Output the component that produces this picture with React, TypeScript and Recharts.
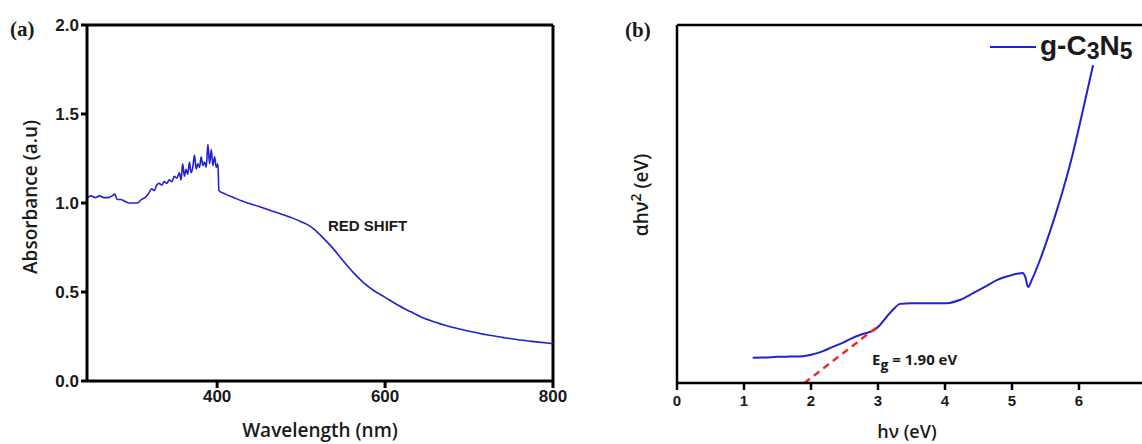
import { Legend, Line, LineChart, ReferenceLine, XAxis, YAxis } from "recharts";

// (a) UV-vis absorbance spectrum
const wavelength = [
  245, 250, 255, 260, 265, 270, 275, 278, 281, 285, 290, 295, 300, 305, 310,
  314, 318, 322, 325, 328, 331, 334, 337, 340, 343, 346, 349, 352, 355, 357,
  359, 361, 363, 365, 367, 369, 371, 373, 375, 377, 379, 381, 383, 385, 387,
  389, 391, 393, 395, 397, 399, 401, 402, 410, 420, 436, 450, 465, 475, 490,
  500, 507, 515, 525, 538, 550, 562, 575, 586, 600, 614, 630, 645, 660, 681,
  700, 721, 740, 761, 780, 800,
];
const absorbance = [
  1.03, 1.04, 1.03, 1.04, 1.03, 1.03, 1.04, 1.05, 1.02, 1.02, 1.01, 1.0, 1.0,
  1.0, 1.02, 1.03, 1.05, 1.08, 1.07, 1.1, 1.11, 1.1, 1.12, 1.11, 1.13, 1.12,
  1.15, 1.14, 1.17, 1.13, 1.22, 1.15, 1.19, 1.16, 1.23, 1.17, 1.2, 1.27, 1.19,
  1.22, 1.2, 1.26, 1.21, 1.23, 1.2, 1.33, 1.22, 1.3, 1.21, 1.26, 1.2, 1.22,
  1.07, 1.05, 1.03, 1.0, 0.98, 0.955, 0.94, 0.915, 0.895, 0.88, 0.855, 0.81,
  0.745, 0.675, 0.61, 0.55, 0.51, 0.47, 0.43, 0.39, 0.355, 0.33, 0.3, 0.28,
  0.26, 0.245, 0.23, 0.22, 0.21,
];
const wavelengthTicks = [400, 600, 800];
const absorbanceTicks = [0, 0.5, 1, 1.5, 2];

// (b) Tauc plot
const photonEnergy = [
  1.13, 1.3, 1.5, 1.7, 1.88, 2.0, 2.18, 2.3, 2.48, 2.6, 2.73, 2.85, 2.93, 3.03,
  3.13, 3.23, 3.33, 3.5, 3.73, 4.03, 4.22, 4.42, 4.6, 4.78, 4.95, 5.1, 5.16,
  5.2, 5.24, 5.3, 5.42, 5.57, 5.67, 5.75, 5.9, 6.05, 6.21,
];
const tauc = [
  7.07, 7.1, 7.3, 7.4, 7.5, 7.9, 8.9, 9.9, 11.3, 12.4, 13.4, 14.1, 14.6, 16.2,
  18.5, 20.6, 22.1, 22.3, 22.3, 22.3, 23.2, 25.1, 26.9, 28.8, 29.9, 30.6, 30.7,
  29.5, 26.8, 29.0, 34.5, 42.5, 48.3, 53.2, 63.5, 75.5, 88.8,
];
const fitEnergy = [1.9, 2.97];
const fitValue = [0, 15.4];
const energyTicks = [0, 1, 2, 3, 4, 5, 6, 7];

const spectrum = wavelength.map((wl, i) => ({ wl, abs: absorbance[i] }));
const taucData = photonEnergy.map((hv, i) => ({ hv, v: tauc[i] }));
const fitData = fitEnergy.map((hv, i) => ({ hv, v: fitValue[i] }));

const BLUE = "#2222cc";
const INK = "#1a1a1a";
const SANS = "'Liberation Sans', Arial, sans-serif";
const TITLE = "'Open Sans', sans-serif";

const tickFontA = { fontSize: 17, fontWeight: 700, fill: INK, fontFamily: SANS };
const tickFontB = { fontSize: 15, fontWeight: 700, fill: INK, fontFamily: SANS };
const axisA = { stroke: "#000", strokeWidth: 3 };
const axisB = { stroke: "#000", strokeWidth: 2.5 };

function TaucLegend() {
  return (
    <div style={{ display: "flex", alignItems: "center", whiteSpace: "nowrap" }}>
      <svg width={46} height={4}>
        <line x1={0} y1={2} x2={46} y2={2} stroke={BLUE} strokeWidth={2} />
      </svg>
      <span
        style={{
          marginLeft: 4,
          fontFamily: SANS,
          fontWeight: 700,
          fontSize: 28,
          lineHeight: "30px",
          color: INK,
        }}
      >
        g-C
        <span style={{ fontSize: 23, position: "relative", top: 4 }}>3</span>N
        <span style={{ fontSize: 23, position: "relative", top: 4 }}>5</span>
      </span>
    </div>
  );
}

const abs = (s: React.CSSProperties): React.CSSProperties => ({
  position: "absolute",
  whiteSpace: "nowrap",
  color: INK,
  ...s,
});

export default function App() {
  return (
    <div
      style={{
        position: "fixed",
        left: 0,
        top: 0,
        width: 1142,
        height: 444,
        overflow: "hidden",
        background: "#fff",
      }}
    >
      <div style={{ position: "absolute", left: 0, top: 0 }}>
        <LineChart
          width={600}
          height={444}
          data={spectrum}
          margin={{ top: 25, right: 47, bottom: 0, left: 0 }}
        >
          <XAxis
            type="number"
            dataKey="wl"
            domain={[245, 800]}
            ticks={wavelengthTicks}
            allowDataOverflow
            height={63}
            axisLine={axisA}
            tickLine={axisA}
            tickSize={7}
            tickMargin={2}
            tick={tickFontA}
          />
          <YAxis
            type="number"
            domain={[0, 2]}
            ticks={absorbanceTicks}
            width={87}
            axisLine={axisA}
            tickLine={axisA}
            tickSize={6}
            tickMargin={2}
            tick={tickFontA}
            tickFormatter={(v: number) => v.toFixed(1)}
          />
          <ReferenceLine y={2} stroke="#000" strokeWidth={3} />
          <ReferenceLine x={800} stroke="#000" strokeWidth={3} />
          <Line
            type="monotone"
            dataKey="abs"
            stroke={BLUE}
            strokeWidth={1.6}
            dot={false}
            isAnimationActive={false}
          />
        </LineChart>
      </div>

      <div style={{ position: "absolute", left: 600, top: 0 }}>
        <LineChart
          width={560}
          height={444}
          margin={{ top: 25, right: 14, bottom: 0, left: 0 }}
        >
          <XAxis
            type="number"
            dataKey="hv"
            domain={[0, 7]}
            ticks={energyTicks}
            allowDataOverflow
            height={61}
            axisLine={axisB}
            tickLine={axisB}
            tickSize={7}
            tickMargin={5}
            tick={tickFontB}
          />
          <YAxis
            type="number"
            domain={[0, 100]}
            width={77}
            axisLine={axisB}
            tickLine={false}
            tick={false}
          />
          <ReferenceLine y={100} stroke="#000" strokeWidth={2.5} />
          <Legend
            layout="horizontal"
            verticalAlign="middle"
            align="center"
            content={() => <TaucLegend />}
            wrapperStyle={{ left: 390, top: 31, width: "auto" }}
          />
          <Line
            data={taucData}
            type="monotone"
            dataKey="v"
            stroke={BLUE}
            strokeWidth={2}
            dot={false}
            isAnimationActive={false}
          />
          <Line
            data={fitData}
            type="linear"
            dataKey="v"
            stroke="#e8302a"
            strokeWidth={2.5}
            strokeDasharray="7 5"
            dot={false}
            legendType="none"
            isAnimationActive={false}
          />
        </LineChart>
      </div>

      {/* panel letters */}
      <div style={abs({ left: 10, top: 17, fontFamily: "'Liberation Serif', serif", fontWeight: 700, fontSize: 21 })}>
        (a)
      </div>
      <div style={abs({ left: 625, top: 18, fontFamily: "'Liberation Serif', serif", fontWeight: 700, fontSize: 21 })}>
        (b)
      </div>

      {/* axis titles */}
      <div
        style={abs({
          left: 30,
          top: 197,
          transform: "translate(-50%, -50%) rotate(-90deg)",
          fontFamily: TITLE,
          fontWeight: 600,
          fontSize: 19,
        })}
      >
        Absorbance (a.u)
      </div>
      <div
        style={abs({
          left: 320,
          top: 430,
          transform: "translate(-50%, -50%)",
          fontFamily: TITLE,
          fontWeight: 600,
          fontSize: 19,
        })}
      >
        Wavelength (nm)
      </div>
      <div
        style={abs({
          left: 640,
          top: 195,
          transform: "translate(-50%, -50%) rotate(-90deg)",
          fontFamily: TITLE,
          fontWeight: 600,
          fontSize: 19,
        })}
      >
        αhν<sup style={{ fontSize: 14 }}>2</sup> (eV)
      </div>
      <div
        style={abs({
          left: 907,
          top: 431,
          transform: "translate(-50%, -50%)",
          fontFamily: TITLE,
          fontWeight: 600,
          fontSize: 18,
        })}
      >
        hν (eV)
      </div>

      {/* annotations */}
      <div style={abs({ left: 328, top: 217, fontFamily: SANS, fontWeight: 700, fontSize: 15 })}>
        RED SHIFT
      </div>
      <div style={abs({ left: 872, top: 349, fontFamily: TITLE, fontWeight: 700, fontSize: 15 })}>
        E<span style={{ fontSize: 14, position: "relative", top: 5 }}>g</span> = 1.90 eV
      </div>
    </div>
  );
}
